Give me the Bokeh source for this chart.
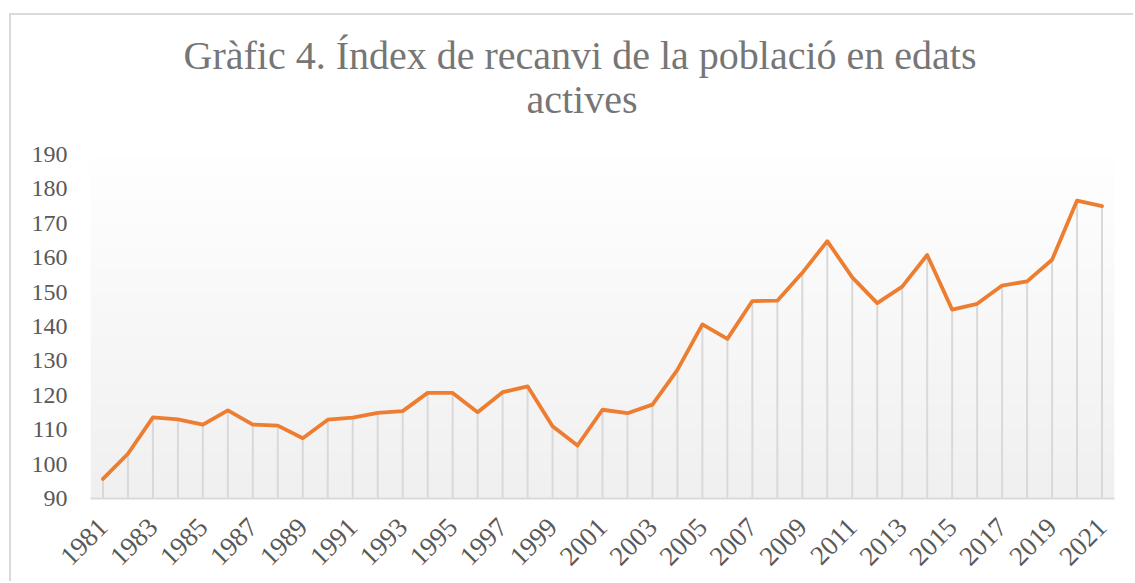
import numpy as np
from bokeh.plotting import figure
from bokeh.models import Range1d, FixedTicker, Title
from bokeh.embed import file_html
from bokeh.resources import INLINE

years = list(range(1981, 2022))
values = [95.7, 103.0, 113.6, 113.0, 111.5, 115.6, 111.5, 111.2, 107.5, 112.9,
          113.5, 114.9, 115.4, 120.7, 120.7, 115.1, 120.9, 122.6, 111.0, 105.4,
          115.8, 114.8, 117.3, 127.4, 140.6, 136.4, 147.4, 147.5, 155.6, 164.8,
          154.3, 146.8, 151.6, 160.8, 144.9, 146.6, 151.9, 153.1, 159.4, 176.6,
          175.0]
y_ticks = [90, 100, 110, 120, 130, 140, 150, 160, 170, 180, 190]
x_ticks = years[::2]
title_lines = ["Gràfic 4. Índex de recanvi de la població en edats", "actives"]

FONT = "Liberation Serif"
GREY = "#595959"
TITLE_GREY = "#767676"

p = figure(width=1124, height=568, output_backend="svg", toolbar_location=None,
           title=None,
           x_range=Range1d(years[0] - 0.5, years[-1] + 0.5),
           y_range=Range1d(y_ticks[0], y_ticks[-1]),
           min_border_left=79, min_border_right=21, min_border_top=139,
           min_border_bottom=85)
p.styles = {"margin-left": "9px", "margin-top": "13px",
            "border-left": "2px solid #d9d9d9", "border-top": "2px solid #d9d9d9"}
p.outline_line_color = None
p.background_fill_color = "white"
p.border_fill_color = "white"
p.xgrid.visible = False
p.ygrid.visible = False

# two-line title, each line centred (second line nearest the plot)
for line, offset, standoff in ((title_lines[1], 436, 66), (title_lines[0], 93, -73)):
    p.add_layout(Title(text=line, align="left", offset=offset, standoff=standoff,
                       text_font=FONT, text_font_size="40px",
                       text_font_style="normal", text_color=TITLE_GREY), "above")

# gradient plot-area fill (white at top -> light grey at bottom)
n = 200
shade = np.linspace(240, 255, n).astype(np.uint8)
img = np.empty((n, 2), dtype=np.uint32)
view = img.view(dtype=np.uint8).reshape((n, 2, 4))
view[:, :, 0] = shade[:, None]
view[:, :, 1] = shade[:, None]
view[:, :, 2] = shade[:, None]
view[:, :, 3] = 255
p.image_rgba(image=[img], x=years[0] - 0.5, y=y_ticks[0],
             dw=len(years), dh=y_ticks[-1] - y_ticks[0])

# drop lines
p.segment(x0=years, y0=[y_ticks[0]] * len(years), x1=years, y1=values,
          line_color="#d9d9d9", line_width=2)

# main line
p.line(years, values, line_color="#ED7D31", line_width=3.8,
       line_join="round", line_cap="round")

# axes
p.yaxis.ticker = FixedTicker(ticks=y_ticks)
p.yaxis.axis_line_color = None
p.yaxis.major_tick_line_color = None
p.yaxis.minor_tick_line_color = None
p.yaxis.major_tick_out = 0
p.yaxis.major_label_standoff = 23
p.yaxis.major_label_text_font = FONT
p.yaxis.major_label_text_font_size = "24px"
p.yaxis.major_label_text_color = GREY

p.xaxis.ticker = FixedTicker(ticks=x_ticks)
p.xaxis.axis_line_color = "#d9d9d9"
p.xaxis.axis_line_width = 2
p.xaxis.major_tick_line_color = None
p.xaxis.minor_tick_line_color = None
p.xaxis.major_tick_out = 0
p.xaxis.major_label_standoff = 24
p.xaxis.major_label_orientation = np.pi / 4
p.xaxis.major_label_text_font = FONT
p.xaxis.major_label_text_font_size = "27px"
p.xaxis.major_label_text_color = GREY

open("out.html", "w").write(file_html(p, INLINE))
